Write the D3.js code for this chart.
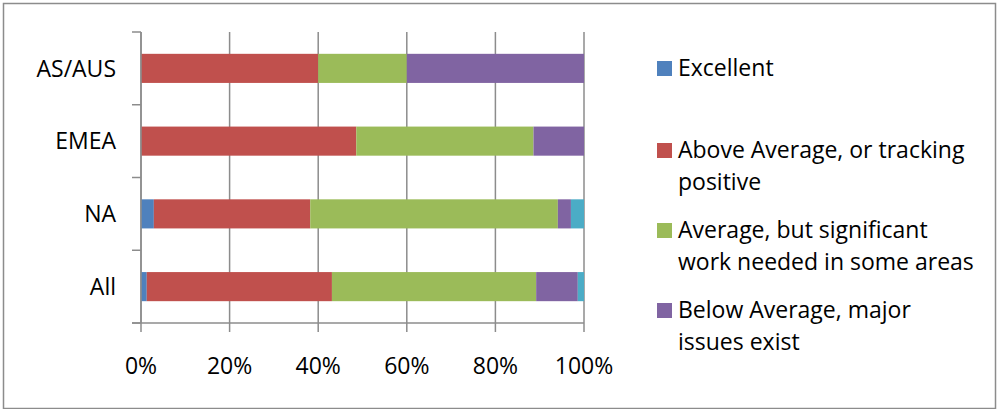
<!DOCTYPE html>
<html>
<head>
<meta charset="utf-8">
<script src="https://cdn.jsdelivr.net/npm/d3@7"></script>
<style>
  body { margin: 0; background: #fff; }
  svg text { font-family: "Open Sans", "Noto Sans", sans-serif; fill: #000; }
</style>
</head>
<body>
<div id="chart"></div>
<script>
// regions, top to bottom
const regions = ["AS/AUS", "EMEA", "NA", "All"];

// series names (the last one is cut off from the legend in the original)
const seriesNames = [
    "Excellent",
    "Above Average, or tracking positive",
    "Average, but significant work needed in some areas",
    "Below Average, major issues exist",
    "Poor"
];
const legendLines = [
    ["Excellent"],
    ["Above Average, or tracking", "positive"],
    ["Average, but significant", "work needed in some areas"],
    ["Below Average, major", "issues exist"]
];
const colors = ["#4f81bd", "#c0504d", "#9bbb59", "#8064a2", "#4bacc6"];

// share of responses per region (percent), one array per series
const excellent = [0, 0, 2.9, 1.3];
const aboveAvg  = [40, 48.6, 35.3, 41.8];
const average   = [20, 40.0, 55.9, 46.1];
const belowAvg  = [40, 11.4, 2.95, 9.4];
const poor      = [0, 0, 2.95, 1.4];

const xTicks = [0, 20, 40, 60, 80, 100];

const W = 998, H = 409;
const plot = {left: 141, right: 584, top: 32, bottom: 323};
const fontSize = "23px";

let svg = d3.select("#chart").append("svg")
    .attr("width", W).attr("height", H);

// outer chart border
svg.append("rect")
    .attr("x", 3.5).attr("y", 3.5)
    .attr("width", W - 6).attr("height", H - 4)
    .attr("fill", "none")
    .attr("stroke", "#8c8c8c")
    .attr("stroke-width", 1.5);

let rows = regions.map(function(r, i) {
    let d = {region: r};
    let vals = [excellent[i], aboveAvg[i], average[i], belowAvg[i], poor[i]];
    let total = d3.sum(vals);
    seriesNames.forEach(function(s, j) { d[s] = vals[j] / total * 100; });
    return d;
});

let stack = d3.stack().keys(seriesNames);
let layers = stack(rows);

let x = d3.scaleLinear().domain([0, 100]).range([plot.left, plot.right]);
let y = d3.scaleBand().domain(regions)
    .range([plot.top, plot.bottom])
    .paddingInner(0.6).paddingOuter(0.3);

// vertical gridlines
svg.append("g").selectAll("line")
    .data(xTicks)
    .enter().append("line")
    .attr("x1", d => x(d)).attr("x2", d => x(d))
    .attr("y1", plot.top).attr("y2", plot.bottom)
    .attr("stroke", "#8c8c8c")
    .attr("stroke-width", 1.5);

// bars
svg.append("g").selectAll("g")
    .data(layers)
    .enter().append("g")
    .attr("fill", (d, i) => colors[i])
    .selectAll("rect")
    .data(d => d)
    .enter().append("rect")
    .attr("x", d => x(d[0]))
    .attr("width", d => Math.max(0, x(d[1]) - x(d[0])))
    .attr("y", d => y(d.data.region))
    .attr("height", y.bandwidth());

// x axis line and ticks
svg.append("line")
    .attr("x1", plot.left - 9).attr("x2", plot.right)
    .attr("y1", plot.bottom).attr("y2", plot.bottom)
    .attr("stroke", "#8c8c8c").attr("stroke-width", 1.5);
svg.append("g").selectAll("line")
    .data(xTicks)
    .enter().append("line")
    .attr("x1", d => x(d)).attr("x2", d => x(d))
    .attr("y1", plot.bottom).attr("y2", plot.bottom + 9)
    .attr("stroke", "#8c8c8c").attr("stroke-width", 1.5);
svg.append("g").selectAll("text")
    .data(xTicks)
    .enter().append("text")
    .attr("x", d => x(d))
    .attr("y", 374)
    .attr("text-anchor", "middle")
    .style("font-size", fontSize)
    .text(d => d + "%");

// y axis line, ticks at band edges, labels
svg.append("line")
    .attr("x1", plot.left).attr("x2", plot.left)
    .attr("y1", plot.top).attr("y2", plot.bottom)
    .attr("stroke", "#8c8c8c").attr("stroke-width", 1.5);
let edges = d3.range(regions.length + 1).map(i => plot.top + i * y.step());
svg.append("g").selectAll("line")
    .data(edges)
    .enter().append("line")
    .attr("x1", plot.left - 9).attr("x2", plot.left)
    .attr("y1", d => d).attr("y2", d => d)
    .attr("stroke", "#8c8c8c").attr("stroke-width", 1.5);
svg.append("g").selectAll("text")
    .data(regions)
    .enter().append("text")
    .attr("x", 116)
    .attr("y", d => y(d) + y.bandwidth() / 2)
    .attr("dy", "0.36em")
    .attr("text-anchor", "end")
    .style("font-size", fontSize)
    .text(d => d);

// legend (first four series only, as in the original)
let legendY = [61, 143, 223, 303];
let legend = svg.append("g").selectAll("g")
    .data(legendLines)
    .enter().append("g")
    .attr("transform", (d, i) => "translate(657," + legendY[i] + ")");
legend.append("rect")
    .attr("width", 15).attr("height", 15)
    .attr("fill", (d, i) => colors[i]);
legend.each(function(lines) {
    let t = d3.select(this).append("text")
        .attr("x", 21).attr("y", 15)
        .style("font-size", fontSize);
    lines.forEach(function(l, k) {
        t.append("tspan")
            .attr("x", 21)
            .attr("dy", k === 0 ? 0 : 32)
            .text(l);
    });
});
</script>
</body>
</html>
